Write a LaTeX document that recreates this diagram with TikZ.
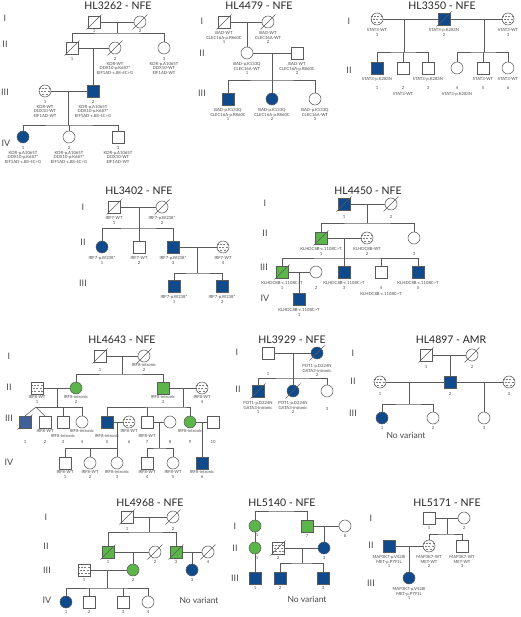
\documentclass[tikz,border=0pt]{standalone}
\usepackage{fontspec}
\setmainfont{Lato}
\usetikzlibrary{calc}
\definecolor{pedNavy}{HTML}{0F4B8C}
\definecolor{pedGreen}{HTML}{5CB548}
\definecolor{pedSteel}{HTML}{3D619E}
\definecolor{pedLine}{HTML}{5A5A5A}
\definecolor{pedText}{HTML}{4A4A4A}
\tikzset{
  sym/.style={draw=pedLine, line width=0.55pt, minimum size=12pt, inner sep=0pt, outer sep=0pt},
  sq/.style={sym, rectangle},
  ci/.style={sym, circle},
  aff/.style={fill=pedNavy},
  car/.style={fill=pedGreen},
  unk/.style={path picture={\foreach \dy/\ph in {-3.2pt/0pt,0pt/1.6pt,3.2pt/0.4pt}{\draw[pedLine!80, line width=0.4pt, dash pattern=on 2pt off 1.4pt, dash phase=\ph] ([yshift=\dy]path picture bounding box.west) -- ([yshift=\dy]path picture bounding box.east);}}},
  ln/.style={draw=pedLine, line width=0.55pt},
  lab/.style={font=\fontsize{4.2}{4.7}\selectfont, text=pedText, align=center, inner sep=0.3pt},
  ttl/.style={font=\fontsize{10.5}{12}\selectfont, text=black!85},
  gen/.style={font=\fontsize{9}{10}\selectfont, text=pedText},
  novar/.style={font=\fontsize{8.5}{10}\selectfont, text=pedText},
  every label/.style={lab},
  label distance=3pt
}
\newcommand\pedDead[1]{\draw[ln] ($(#1.center)+(-7.5pt,-7.5pt)$) -- ($(#1.center)+(7.5pt,7.5pt)$);}

\begin{document}
\begin{tikzpicture}[x=1pt, y=-1pt]
  \path[use as bounding box, fill=white] (0,0) rectangle (520,617);

  % HL3262
  \node[ttl] (tA) at (118,6) {HL3262 - NFE};
  \node[gen] (gA1) at (5,18) {I};
  \node[gen] (gA2) at (5,44) {II};
  \node[gen] (gA3) at (5,92) {III};
  \node[gen] (gA4) at (6,143) {IV};
  \node[sq, label={[label distance=0.5pt]below:1}] (a11) at (94,22) {};
  \node[ci, label={[label distance=0.5pt]below:2}] (a12) at (140,22) {};
  \node[sq, label=below:1] (a21) at (72,48) {};
  \node[ci, label={below:{2\\KDR-WT\\DDX10-p.K687*\\EIF1AD-c.88-4C>G}}] (a22) at (115,48) {};
  \node[ci, label={below:{3\\KDR-p.A1065T\\DDX10-WT\\EIF1AD-WT}}] (a23) at (164,48) {};
  \node[ci, unk, label={below:{1\\KDR-WT\\DDX10-WT\\EIF1AD-WT}}] (a31) at (45,91) {};
  \node[sq, aff, label={below:{2\\KDR-p.A1065T\\DDX10-p.K687*\\EIF1AD-c.88-4C>G}}] (a32) at (93,91) {};
  \node[ci, aff, label={below:{1\\KDR-p.A1065T\\DDX10-p.K687*\\EIF1AD-c.88-4C>G}}] (a41) at (23,137) {};
  \node[ci, label={below:{2\\KDR-p.A1065T\\DDX10-p.K687*\\EIF1AD-c.88-4C>G}}] (a42) at (69,137) {};
  \node[sq, label={below:{3\\KDR-p.A1065T\\DDX10-WT\\EIF1AD-WT}}] (a43) at (118,137) {};
  \draw[ln] (a11) -- (a12);
  \coordinate (sA1) at (117,33);
  \draw[ln] (a11 -| sA1) -- (sA1);
  \draw[ln] (a21.north) |- (sA1) -| (a23.north);
  \draw[ln] (a21) -- (a22);
  \draw[ln] (a32.north |- a21) -- (a32.north);
  \draw[ln] (a31) -- (a32);
  \coordinate (sA3) at (68,125);
  \draw[ln] (a31 -| sA3) -- (sA3);
  \draw[ln] (a41.north) |- (sA3) -| (a43.north);
  \draw[ln] (a42.north) -- (a42.north |- sA3);
  \foreach \n in {a11,a12,a21,a22} \pedDead{\n};

  % HL4479
  \node[ttl] (tB) at (259,6) {HL4479 - NFE};
  \node[gen] (gB1) at (202,21) {I};
  \node[gen] (gB2) at (202,53) {II};
  \node[gen] (gB3) at (202,93) {III};
  \node[sq, label={below:{BAD-WT\\CLEC16A-p.R860C\\1}}] (b11) at (224,22) {};
  \node[ci, label={below:{BAD-WT\\CLEC16A-WT\\2}}] (b12) at (268,22) {};
  \node[ci, label={below:{BAD-p.K133Q\\CLEC16A-WT\\1}}] (b21) at (247,53) {};
  \node[sq, label={below:{BAD-WT\\CLEC16A-p.R860C\\2}}] (b22) at (297,53) {};
  \node[sq, aff, label={below:{BAD-p.K133Q\\CLEC16A-p.R860C\\1}}] (b31) at (228,99) {};
  \node[ci, aff, label={below:{BAD-p.K133Q\\CLEC16A-p.R860C\\2}}] (b32) at (272,99) {};
  \node[ci, label={below:{BAD-p.K133Q\\CLEC16A-WT\\3}}] (b33) at (315,99) {};
  \draw[ln] (b11) -- (b12);
  \draw[ln] (b21.north |- b11) -- (b21.north);
  \draw[ln] (b21) -- (b22);
  \coordinate (sB2) at (272,80);
  \draw[ln] (b21 -| sB2) -- (sB2);
  \draw[ln] (b31.north) |- (sB2) -| (b33.north);
  \draw[ln] (b32.north) -- (b32.north |- sB2);
  \foreach \n in {b11,b12} \pedDead{\n};

  % HL3350
  \node[ttl] (tC) at (442,6) {HL3350 - NFE};
  \node[gen] (gC1) at (349,21) {I};
  \node[gen] (gC2) at (349,70) {II};
  \node[ci, unk, label={below:{STAT3-WT\\1}}] (c11) at (377,19) {};
  \node[sq, aff, label={below:{STAT3-p.K283N\\2}}] (c12) at (444,19) {};
  \node[ci, unk, label={below:{STAT3-WT\\3}}] (c13) at (508,19) {};
  \node[sq, aff, label=below:STAT3-p.K283N, label={[label distance=12pt]below:1}] (c21) at (377,68) {};
  \node[sq, label={[label distance=12pt]below:{2\\[1.4pt]STAT3-WT}}] (c22) at (403,68) {};
  \node[sq, label=below:STAT3-p.K283N, label={[label distance=12pt]below:3}] (c23) at (428,68) {};
  \node[ci, label={[label distance=12pt]below:{4\\[1.4pt]STAT3-p.K283N}}] (c24) at (457,68) {};
  \node[sq, label=below:STAT3-WT, label={[label distance=12pt]below:5}] (c25) at (483,68) {};
  \node[ci, label=below:STAT3-WT, label={[label distance=12pt]below:6}] (c26) at (508,68) {};
  \draw[ln] (c11) -- (c12);
  \draw[ln] (c12) -- (c13);
  \coordinate (sC1) at (404,52);
  \draw[ln] (c11 -| sC1) -- (sC1);
  \draw[ln] (c21.north) |- (sC1) -| (c23.north);
  \draw[ln] (c22.north) -- (c22.north |- sC1);
  \coordinate (sC2) at (484,52);
  \draw[ln] (c12 -| sC2) -- (sC2);
  \draw[ln] (c24.north) |- (sC2) -| (c26.north);
  \draw[ln] (c25.north) -- (c25.north |- sC2);
  \pedDead{c12};

  % HL3402
  \node[ttl] (tD) at (139,191) {HL3402 - NFE};
  \node[gen] (gD1) at (83,207) {I};
  \node[gen] (gD2) at (83,242) {II};
  \node[gen] (gD3) at (83,283) {III};
  \node[sq, label={below:{IRF7-WT\\1}}] (d11) at (114,207) {};
  \node[ci, label={below:{IRF7-p.W238*\\2}}] (d12) at (162,207) {};
  \node[ci, aff, label={below:{IRF7-p.W238*\\1}}] (d21) at (102,247) {};
  \node[sq, label={below:{IRF7-WT\\2}}] (d22) at (139,247) {};
  \node[sq, aff, label={below:{IRF7-p.W238*\\3}}] (d23) at (173,247) {};
  \node[ci, unk, label={below:{IRF7-WT\\4}}] (d24) at (223,247) {};
  \node[sq, aff, label={below:{IRF7-p.W238*\\1}}] (d31) at (174,286) {};
  \node[sq, aff, label={below:{IRF7-p.W238*\\2}}] (d32) at (222,286) {};
  \draw[ln] (d11) -- (d12);
  \coordinate (sD1) at (139,228);
  \draw[ln] (d11 -| sD1) -- (sD1);
  \draw[ln] (d21.north) |- (sD1) -| (d23.north);
  \draw[ln] (d22.north) -- (d22.north |- sD1);
  \draw[ln] (d23) -- (d24);
  \coordinate (sD2) at (197,273);
  \draw[ln] (d23 -| sD2) -- (sD2);
  \draw[ln] (d31.north) |- (sD2) -| (d32.north);
  \foreach \n in {d11,d12} \pedDead{\n};

  % HL4450
  \node[ttl] (tE) at (368,191) {HL4450 - NFE};
  \node[gen] (gE1) at (265,203) {I};
  \node[gen] (gE2) at (265,233) {II};
  \node[gen] (gE3) at (264,267) {III};
  \node[gen] (gE4) at (265,298) {IV};
  \node[sq, aff, label={[label distance=5pt]below:1}] (e11) at (344,204) {};
  \node[ci, label={[label distance=5pt]below:2}] (e12) at (391,204) {};
  \node[sq, car, label={below:{KLHDC8B-c.1108C>T\\1}}] (e21) at (321,238) {};
  \node[ci, unk, label={below:{KLHDC8B-WT\\2}}] (e22) at (367,238) {};
  \node[ci, label={[label distance=8pt]below:3}] (e23) at (414,238) {};
  \node[sq, car, label={below:{KLHDC8B-c.1108C>T\\1}}] (e31) at (282,272) {};
  \node[ci, label={[label distance=8pt]below:2}] (e32) at (316,272) {};
  \node[sq, aff, label={below:{KLHDC8B-c.1108C>T\\3}}] (e33) at (344,272) {};
  \node[sq, label={[label distance=8pt]below:{4\\[1.4pt]KLHDC8B-c.1108C>T}}] (e34) at (381,272) {};
  \node[sq, aff, label={below:{KLHDC8B-c.1108C>T\\5}}] (e35) at (418,272) {};
  \node[sq, aff, label={below:{KLHDC8B-c.1108C>T\\1}}] (e41) at (299,299) {};
  \draw[ln] (e11) -- (e12);
  \coordinate (sE1) at (367,223);
  \draw[ln] (e11 -| sE1) -- (sE1);
  \draw[ln] (e21.north) |- (sE1) -| (e23.north);
  \draw[ln] (e21) -- (e22);
  \coordinate (sE2) at (344,258);
  \draw[ln] (e21 -| sE2) -- (sE2);
  \draw[ln] (e31.north) |- (sE2) -| (e35.north);
  \foreach \n in {e33,e34} \draw[ln] (\n.north) -- (\n.north |- sE2);
  \draw[ln] (e31) -- (e32);
  \draw[ln] (e41.north |- e31) -- (e41.north);
  \foreach \n in {e11,e12,e21,e31} \pedDead{\n};

  % HL4643
  \node[ttl] (tF) at (122,340) {HL4643 - NFE};
  \node[gen] (gF1) at (9,356) {I};
  \node[gen] (gF2) at (9,387) {II};
  \node[gen] (gF3) at (9,418) {III};
  \node[gen] (gF4) at (9,462) {IV};
  \node[sq, label={[label distance=6pt]below:1}] (f11) at (100,356) {};
  \node[ci, label={[label distance=1pt]below:{IRF8-intronic\\2}}] (f12) at (144,356) {};
  \node[sq, unk, label={[label distance=1pt]below:{IRF8-WT\\1}}] (f21) at (37,388) {};
  \node[ci, car, label={[label distance=1pt]below:{IRF8-intronic\\2}}] (f22) at (76,388) {};
  \node[sq, car, label={[label distance=1pt]below:{IRF8-intronic\\3}}] (f23) at (163,388) {};
  \node[ci, unk, label={[label distance=1pt]below:{IRF8-WT\\4}}] (f24) at (202,388) {};
  \node[sq, fill=pedSteel, label={[label distance=12pt]below:1}] (f31) at (25,422) {};
  \node[sq, label={[label distance=1pt]below:IRF8-WT}, label={[label distance=12pt]below:2}] (f32) at (45,422) {};
  \node[sq, label={[label distance=6pt]below:IRF8-intronic}, label={[label distance=12pt]below:3}] (f33) at (63,422) {};
  \node[ci, label={[label distance=1pt]below:IRF8-intronic}, label={[label distance=12pt]below:4}] (f34) at (82,422) {};
  \node[sq, aff, label={[label distance=6pt]below:IRF8-intronic}, label={[label distance=12pt]below:5}] (f35) at (107,422) {};
  \node[ci, unk, label={[label distance=1pt]below:IRF8-WT}, label={[label distance=12pt]below:6}] (f36) at (129,422) {};
  \node[sq, label={[label distance=6pt]below:IRF8-WT}, label={[label distance=12pt]below:7}] (f37) at (147,422) {};
  \node[ci, label={[label distance=12pt]below:8}] (f38) at (170,422) {};
  \node[ci, car, label={[label distance=1pt]below:IRF8-intronic}, label={[label distance=12pt]below:9}] (f39) at (190,422) {};
  \node[sq, label={[label distance=12pt]below:10}] (f310) at (213,422) {};
  \node[sq, label={[label distance=1pt]below:{IRF8-WT\\1}}] (f41) at (65,463) {};
  \node[ci, label={[label distance=1pt]below:{IRF8-WT\\2}}] (f42) at (90,463) {};
  \node[ci, label={[label distance=1pt]below:{IRF8-intronic\\3}}] (f43) at (117,463) {};
  \node[sq, label={[label distance=1pt]below:{IRF8-WT\\4}}] (f44) at (147,463) {};
  \node[ci, label={[label distance=1pt]below:{IRF8-WT\\5}}] (f45) at (173,463) {};
  \node[sq, aff, label={[label distance=1pt]below:{IRF8-intronic\\6}}] (f46) at (202,463) {};
  \draw[ln] (f11) -- (f12);
  \coordinate (sF1) at (122,374);
  \draw[ln] (f11 -| sF1) -- (sF1);
  \draw[ln] (f22.north) |- (sF1) -| (f23.north);
  \draw[ln] (f21) -- (f22);
  \coordinate (sF2) at (57,407);
  \coordinate (twF) at (36,407);
  \draw[ln] (f21 -| sF2) -- (sF2);
  \draw[ln] (twF) -| (f34.north);
  \draw[ln] (f33.north) -- (f33.north |- twF);
  \draw[ln] (f31.north) -- (twF) -- (f32.north);
  \draw[ln] (f23) -- (f24);
  \coordinate (sF3) at (183,407);
  \draw[ln] (f23 -| sF3) -- (sF3);
  \draw[ln] (f35.north) |- (sF3) -| (f39.north);
  \draw[ln] (f37.north) -- (f37.north |- sF3);
  \draw[ln] (f35) -- (f36);
  \coordinate (sF4) at (117,448);
  \draw[ln] (f35 -| sF4) -- (sF4);
  \draw[ln] (f41.north) |- (sF4) -| (f43.north);
  \draw[ln] (f42.north) -- (f42.north |- sF4);
  \draw[ln] (f37) -- (f38);
  \coordinate (sF5) at (159,448);
  \draw[ln] (f37 -| sF5) -- (sF5);
  \draw[ln] (f44.north) |- (sF5) -| (f45.north);
  \draw[ln] (f39) -- (f310);
  \draw[ln] (f46.north |- f39) -- (f46.north);
  \foreach \n in {f11,f12,f31} \pedDead{\n};

  % HL3929
  \node[ttl] (tG) at (292,340) {HL3929 - NFE};
  \node[gen] (gG1) at (237,352) {I};
  \node[gen] (gG2) at (238,389) {II};
  \node[sq, label={[label distance=13pt]below:1}] (g11) at (268,353) {};
  \node[ci, aff, label={[label distance=5pt]below:{POT1-p.D224N\\GATA3-intronic\\2}}] (g12) at (317,353) {};
  \node[sq, aff, label={[label distance=4pt]below:{POT1-p.D224N\\GATA3-intronic\\1}}] (g21) at (258,391) {};
  \node[ci, aff, label={[label distance=4pt]below:{POT1-p.D224N\\GATA3-intronic\\2}}] (g22) at (293,391) {};
  \node[ci, label={[label distance=10pt]below:3}] (g23) at (327,391) {};
  \draw[ln] (g11) -- (g12);
  \coordinate (sG) at (293,378);
  \draw[ln] (g11 -| sG) -- (sG);
  \draw[ln] (g21.north) |- (sG) -| (g23.north);
  \draw[ln] (g22.north) -- (g22.north |- sG);
  \foreach \n in {g12,g21,g22} \pedDead{\n};

  % HL4897
  \node[ttl] (tH) at (451,340) {HL4897 - AMR};
  \node[gen] (gH1) at (353,353) {I};
  \node[gen] (gH2) at (353,381) {II};
  \node[gen] (gH3) at (353,413) {III};
  \node[sq, label={[label distance=4pt]below:1}] (h11) at (426,355) {};
  \node[ci, label={[label distance=4pt]below:2}] (h12) at (472,355) {};
  \node[ci, unk, label={[label distance=4pt]below:1}] (h21) at (380,382) {};
  \node[sq, aff, label={[label distance=4pt]below:2}] (h22) at (450,382) {};
  \node[ci, unk, label={[label distance=4pt]below:3}] (h23) at (509,382) {};
  \node[ci, aff, label={[label distance=2pt]below:1}] (h31) at (382,418) {};
  \node[ci, label={[label distance=2pt]below:2}] (h32) at (433,418) {};
  \node[ci, label={[label distance=2pt]below:3}] (h33) at (484,418) {};
  \node[novar] (nvH) at (406,435) {No variant};
  \draw[ln] (h11) -- (h12);
  \draw[ln] (h22.north |- h11) -- (h22.north);
  \draw[ln] (h21) -- (h22);
  \coordinate (sH1) at (409,404);
  \draw[ln] (h21 -| sH1) -- (sH1);
  \draw[ln] (h31.north) |- (sH1) -| (h32.north);
  \draw[ln] (h22) -- (h23);
  \draw[ln] (h33.north |- h22) -- (h33.north);
  \foreach \n in {h11,h12} \pedDead{\n};

  % HL4968
  \node[ttl] (tJ) at (150,503) {HL4968 - NFE};
  \node[gen] (gJ1) at (46,517) {I};
  \node[gen] (gJ2) at (46,546) {II};
  \node[gen] (gJ3) at (47,570) {III};
  \node[gen] (gJ4) at (47,600) {IV};
  \node[sq, label={[label distance=4pt]below:1}] (j11) at (127,517) {};
  \node[ci, label={[label distance=4pt]below:2}] (j12) at (173,517) {};
  \node[sq, car, label={[label distance=2pt]below:1}] (j21) at (108,552) {};
  \node[ci, label={[label distance=2pt]below:2}] (j22) at (155,552) {};
  \node[sq, car, label={[label distance=2pt]below:3}] (j23) at (176,552) {};
  \node[ci, label={[label distance=2pt]below:4}] (j24) at (208,552) {};
  \node[sq, unk, label={[label distance=2pt]below:1}] (j31) at (84,570) {};
  \node[ci, car, label={[label distance=2pt]below:2}] (j32) at (133,570) {};
  \node[ci, aff, label={[label distance=2pt]below:3}] (j33) at (192,570) {};
  \node[ci, aff, label={[label distance=2pt]below:1}] (j41) at (66,602) {};
  \node[sq, label={[label distance=2pt]below:2}] (j42) at (89,602) {};
  \node[sq, label={[label distance=2pt]below:3}] (j43) at (123,602) {};
  \node[ci, label={[label distance=2pt]below:4}] (j44) at (148,602) {};
  \node[novar] (nvJ) at (199,600) {No variant};
  \draw[ln] (j11) -- (j12);
  \coordinate (sJ1) at (149,532);
  \draw[ln] (j11 -| sJ1) -- (sJ1);
  \draw[ln] (j21.north) |- (sJ1) -| (j23.north);
  \draw[ln] (j21) -- (j22);
  \draw[ln] (j32.north |- j21) -- (j32.north);
  \draw[ln] (j23) -- (j24);
  \draw[ln] (j33.north |- j23) -- (j33.north);
  \draw[ln] (j31) -- (j32);
  \coordinate (sJ3) at (107,588);
  \draw[ln] (j31 -| sJ3) -- (sJ3);
  \draw[ln] (j41.north) |- (sJ3) -| (j44.north);
  \foreach \n in {j42,j43} \draw[ln] (\n.north) -- (\n.north |- sJ3);
  \foreach \n in {j11,j12,j21,j22,j23,j24} \pedDead{\n};

  % HL5140
  \node[ttl] (tK) at (282,503) {HL5140 - NFE};
  \node[gen] (gK1) at (235,526) {I};
  \node[gen] (gK2) at (235,548) {II};
  \node[gen] (gK3) at (235,578) {III};
  \node[ci, car, label={[label distance=1pt, xshift=2pt]below:1}] (k11) at (255,526) {};
  \node[sq, car, label={[label distance=2pt]below:7}] (k17) at (307,526) {};
  \node[ci, label={[label distance=2pt]below:8}] (k18) at (345,526) {};
  \node[ci, car, label={[label distance=2pt, xshift=2pt]below:1}] (k21) at (255,548) {};
  \node[sq, unk, label={[label distance=2pt]below:2}] (k22) at (278,548) {};
  \node[ci, aff, label={[label distance=2pt]below:3}] (k23) at (324,548) {};
  \node[sq, aff, label={[label distance=2pt]below:1}] (k31) at (255,578) {};
  \node[sq, aff, label={[label distance=2pt]below:2}] (k32) at (280,578) {};
  \node[sq, aff, label={[label distance=2pt]below:3}] (k33) at (323,578) {};
  \node[novar] (nvK) at (307,599) {No variant};
  \coordinate (sK0) at (281,511);
  \draw[ln] (k11.north) |- (sK0) -| (k17.north);
  \draw[ln] (k11) -- (k21);
  \draw[ln] (k21) -- (k31);
  \draw[ln] (k17) -- (k18);
  \draw[ln] (k23.north |- k17) -- (k23.north);
  \draw[ln] (k22) -- (k23);
  \coordinate (sK2) at (302,563);
  \draw[ln] (k22 -| sK2) -- (sK2);
  \draw[ln] (k32.north) |- (sK2) -| (k33.north);
  \pedDead{k22};

  % HL5171
  \node[ttl] (tL) at (447,503) {HL5171 - NFE};
  \node[gen] (gL1) at (371,518) {I};
  \node[gen] (gL2) at (371,545) {II};
  \node[gen] (gL3) at (371,583) {III};
  \node[sq, label={[label distance=2pt]below:1}] (l11) at (429,518) {};
  \node[ci, label={[label distance=2pt]below:2}] (l12) at (464,518) {};
  \node[sq, aff, label={below:{MAP3K7-p.V428I\\MET-p.P791L\\1}}] (l21) at (389,546) {};
  \node[ci, unk, label={below:{MAP3K7-WT\\MET-WT\\2}}] (l22) at (429,546) {};
  \node[sq, label={below:{MAP3K7-WT\\MET-WT\\3}}] (l23) at (462,546) {};
  \node[ci, aff, label={below:{MAP3K7-p.V428I\\MET-p.P791L\\1}}] (l31) at (409,578) {};
  \draw[ln] (l11) -- (l12);
  \coordinate (sL1) at (447,534);
  \draw[ln] (l11 -| sL1) -- (sL1);
  \draw[ln] (l22.north) |- (sL1) -| (l23.north);
  \draw[ln] (l21) -- (l22);
  \draw[ln] (l31.north |- l21) -- (l31.north);
\end{tikzpicture}
\end{document}
